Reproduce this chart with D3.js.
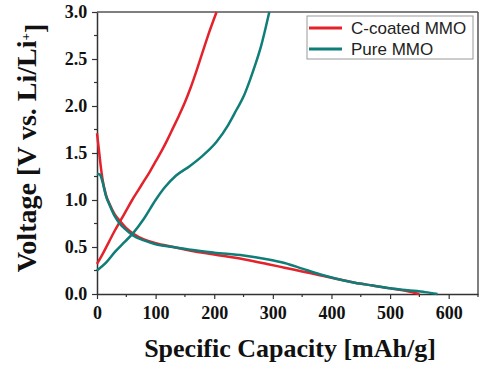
<!DOCTYPE html>
<html>
<head>
<meta charset="utf-8">
<script src="https://cdn.jsdelivr.net/npm/d3@7"></script>
<style>
  body { margin: 0; background: #fff; }
  svg { display: block; }
</style>
</head>
<body>
<div id="chart"></div>
<script>
// series labels and colours
const seriesNames = ["C-coated MMO", "Pure MMO"];
const seriesColors = ["#e3222b", "#0f7d78"];

// tick values
const xTicks = [0, 100, 200, 300, 400, 500, 600];
const yTicks = [0.0, 0.5, 1.0, 1.5, 2.0, 2.5, 3.0];

// C-coated MMO, discharge (capacity, voltage)
const redDischarge = [
    [0, 1.71], [3, 1.55], [6, 1.38], [10, 1.2], [15, 1.06], [22, 0.95], [30, 0.85],
    [40, 0.77], [50, 0.7], [62, 0.64], [80, 0.58], [100, 0.54], [130, 0.5], [160, 0.46],
    [200, 0.42], [250, 0.37], [290, 0.32], [320, 0.28], [350, 0.24], [380, 0.2],
    [410, 0.16], [440, 0.12], [470, 0.09], [500, 0.06], [530, 0.03], [550, 0.0]
];
// C-coated MMO, charge
const redCharge = [
    [0, 0.32], [10, 0.43], [20, 0.55], [30, 0.67], [40, 0.78], [50, 0.89], [60, 1.0],
    [70, 1.1], [80, 1.2], [90, 1.3], [100, 1.41], [110, 1.52], [120, 1.64], [130, 1.77],
    [140, 1.9], [150, 2.04], [160, 2.2], [170, 2.38], [180, 2.57], [190, 2.76], [204, 3.0]
];
// Pure MMO, discharge
const tealDischarge = [
    [0, 1.28], [5, 1.27], [10, 1.18], [15, 1.05], [22, 0.94], [30, 0.83], [40, 0.74],
    [50, 0.68], [62, 0.62], [80, 0.57], [100, 0.53], [130, 0.5], [160, 0.47], [200, 0.44],
    [250, 0.41], [290, 0.37], [320, 0.33], [350, 0.27], [380, 0.21], [410, 0.16],
    [440, 0.12], [470, 0.09], [500, 0.06], [530, 0.04], [560, 0.02], [581, 0.0]
];
// Pure MMO, charge
const tealCharge = [
    [0, 0.25], [15, 0.33], [31, 0.45], [45, 0.54], [62, 0.65], [80, 0.8], [100, 1.0],
    [115, 1.13], [135, 1.26], [158, 1.36], [180, 1.47], [204, 1.62], [224, 1.8],
    [238, 1.96], [250, 2.1], [260, 2.26], [270, 2.44], [280, 2.64], [288, 2.84], [294, 3.0]
];

const width = 500, height = 373;
const margin = {top: 12, right: 22, bottom: 79, left: 97};
const w = width - margin.left - margin.right;
const h = height - margin.top - margin.bottom;

const svg = d3.select("#chart").append("svg")
    .attr("width", width)
    .attr("height", height);
const g = svg.append("g")
    .attr("transform", `translate(${margin.left},${margin.top})`);

const x = d3.scaleLinear().domain([0, 650]).range([0, w]);
const y = d3.scaleLinear().domain([0, 3]).range([h, 0]);

const serif = "'Liberation Serif', 'Times New Roman', serif";

// frame: top and right
g.append("line").attr("x1", 0).attr("x2", w).attr("y1", 0).attr("y2", 0)
    .attr("stroke", "#555").attr("stroke-width", 1.5);
g.append("line").attr("x1", w).attr("x2", w).attr("y1", 0).attr("y2", h)
    .attr("stroke", "#555").attr("stroke-width", 1.5);

// minor ticks
const xMinor = d3.range(50, 651, 100);
const yMinor = d3.range(0.25, 3, 0.5);
g.append("g").selectAll("line").data(xMinor).join("line")
    .attr("x1", d => x(d)).attr("x2", d => x(d))
    .attr("y1", h).attr("y2", h + 3)
    .attr("stroke", "#333").attr("stroke-width", 1.2);
g.append("g").selectAll("line").data(yMinor).join("line")
    .attr("x1", 0).attr("x2", -3)
    .attr("y1", d => y(d)).attr("y2", d => y(d))
    .attr("stroke", "#333").attr("stroke-width", 1.2);

// X axis
const xAxis = g.append("g")
    .attr("transform", `translate(0,${h})`)
    .call(d3.axisBottom(x).tickValues(xTicks).tickSize(5).tickSizeOuter(0).tickFormat(d3.format("d")));
xAxis.selectAll("text")
    .attr("dy", "0.95em")
    .style("font-family", serif)
    .style("font-weight", "bold")
    .style("font-size", "18px")
    .attr("fill", "#111");

// Y axis
const yAxis = g.append("g")
    .call(d3.axisLeft(y).tickValues(yTicks).tickSize(5).tickSizeOuter(0).tickFormat(d3.format(".1f")));
yAxis.selectAll("text")
    .attr("dx", "-0.1em")
    .style("font-family", serif)
    .style("font-weight", "bold")
    .style("font-size", "18px")
    .attr("fill", "#111");

[xAxis, yAxis].forEach(a => {
    a.select(".domain").attr("stroke", "#333").attr("stroke-width", 1.5);
    a.selectAll(".tick line").attr("stroke", "#333").attr("stroke-width", 1.2);
});

// curves
const line = d3.line()
    .x(d => x(d[0]))
    .y(d => y(d[1]))
    .curve(d3.curveMonotoneX);

const curves = [
    {data: redCharge, color: seriesColors[0]},
    {data: redDischarge, color: seriesColors[0]},
    {data: tealCharge, color: seriesColors[1]},
    {data: tealDischarge, color: seriesColors[1]}
];
g.append("g").selectAll("path").data(curves).join("path")
    .attr("d", d => line(d.data))
    .attr("fill", "none")
    .attr("stroke", d => d.color)
    .attr("stroke-width", 2.5);

// legend
const legend = svg.append("g").attr("transform", "translate(307,16)");
legend.append("rect")
    .attr("width", 166).attr("height", 43)
    .attr("fill", "#fff").attr("stroke", "#999").attr("stroke-width", 1);
seriesNames.forEach((name, i) => {
    const yy = 12 + i * 21;
    legend.append("line")
        .attr("x1", 2).attr("x2", 35).attr("y1", yy).attr("y2", yy)
        .attr("stroke", seriesColors[i]).attr("stroke-width", 3);
    legend.append("text")
        .attr("x", 44).attr("y", yy + 6)
        .style("font-family", "'Liberation Sans', Arial, sans-serif")
        .style("font-size", "17px")
        .attr("fill", "#222")
        .text(name);
});

// axis titles
svg.append("text")
    .attr("x", 290).attr("y", 357)
    .attr("text-anchor", "middle")
    .style("font-family", serif)
    .style("font-weight", "bold")
    .style("font-size", "26px")
    .attr("fill", "#111")
    .text("Specific Capacity [mAh/g]");

const yTitle = svg.append("text")
    .attr("transform", "translate(36,148) rotate(-90)")
    .attr("text-anchor", "middle")
    .style("font-family", serif)
    .style("font-weight", "bold")
    .style("font-size", "28px")
    .attr("fill", "#111");
yTitle.append("tspan").text("Voltage [V vs. Li/Li");
yTitle.append("tspan").attr("dy", "-0.5em").style("font-size", "13px").text("+");
yTitle.append("tspan").attr("dy", "0.5em").text("]");
</script>
</body>
</html>
